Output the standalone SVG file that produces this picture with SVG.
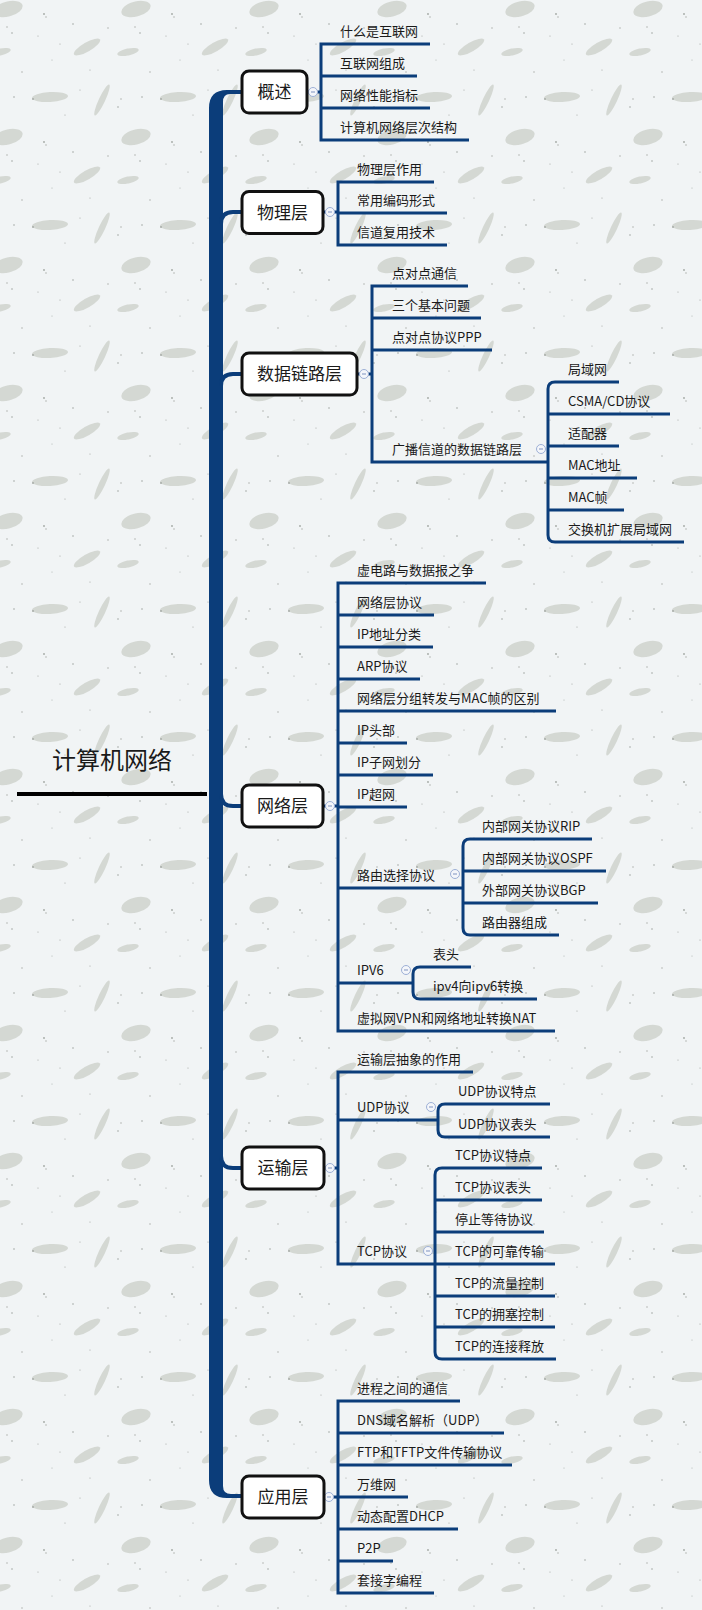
<svg xmlns="http://www.w3.org/2000/svg" width="702" height="1610" viewBox="0 0 702 1610">
<style>
text{font-family:"Noto Sans CJK SC","Microsoft YaHei","Noto Sans",sans-serif;fill:#1a1a1a}
.sub{font-size:13px}
.main{font-size:17px;text-anchor:middle}
.root{font-size:24px}
.ln{stroke:#0b3d7a;stroke-width:3;fill:none;stroke-linecap:butt}
.br{stroke:#0b3d7a;stroke-width:4;fill:none}
.box{fill:#ffffff;stroke:#111111;stroke-width:3}
.hd{fill:#f4f6fa;stroke:#9db0d6;stroke-width:1}
.hm{stroke:#7f93c0;stroke-width:1}
.blob{fill:#cdd1cb;opacity:0.8}
.dot{fill:#a3a8a3}
</style>
<defs>
<pattern id="bg" width="128" height="128" patternUnits="userSpaceOnUse">
<rect width="128" height="128" fill="#f1f4f5"/>
<ellipse class="blob" cx="8" cy="9" rx="15" ry="7.5" transform="rotate(-15 8 9)"/>
<ellipse class="blob" cx="136" cy="9" rx="15" ry="7.5" transform="rotate(-15 136 9)"/>
<ellipse class="blob" cx="8" cy="137" rx="15" ry="7.5" transform="rotate(-15 8 137)"/>
<ellipse class="blob" cx="136" cy="137" rx="15" ry="7.5" transform="rotate(-15 136 137)"/>
<ellipse class="blob" cx="87" cy="47" rx="15" ry="4.5" transform="rotate(-30 87 47)"/>
<ellipse class="blob" cx="128" cy="52" rx="11" ry="3.5" transform="rotate(-12 128 52)"/>
<ellipse class="blob" cx="0" cy="52" rx="11" ry="3.5" transform="rotate(-12 0 52)"/>
<ellipse class="blob" cx="50" cy="97" rx="18" ry="5" transform="rotate(-3 50 97)"/>
<ellipse class="blob" cx="102" cy="100" rx="17" ry="3.2" transform="rotate(-65 102 100)"/>
<circle class="dot" cx="44" cy="14" r="0.9"/><circle class="dot" cx="46" cy="17" r="0.7"/>
<circle class="dot" cx="7" cy="27" r="0.7"/><circle class="dot" cx="12" cy="33" r="0.8"/>
<circle class="dot" cx="73" cy="24" r="0.8"/><circle class="dot" cx="38" cy="36" r="0.6"/>
<circle class="dot" cx="60" cy="44" r="0.6"/><circle class="dot" cx="140" cy="44" r="0.6"/>
<circle class="dot" cx="108" cy="28" r="0.7"/><circle class="dot" cx="22" cy="72" r="0.7"/>
<circle class="dot" cx="14" cy="97" r="0.8"/><circle class="dot" cx="33" cy="99" r="0.9"/>
<circle class="dot" cx="80" cy="90" r="0.6"/><circle class="dot" cx="118" cy="107" r="0.8"/>
<circle class="dot" cx="121" cy="99" r="0.7"/><circle class="dot" cx="65" cy="115" r="0.6"/>
<circle class="dot" cx="90" cy="70" r="0.6"/><circle class="dot" cx="52" cy="60" r="0.5"/>
</pattern>
</defs>
<rect width="702" height="1610" fill="url(#bg)"/>

<g id="connectors">
<path d="M209,108 Q209,90 227,90 H242 V94 H230 Q223,94 223,102 V1486 Q223,1494 231,1494 H242 V1498 H227 Q209,1498 209,1480 Z" fill="#0b3d7a"/>
<path class="br" d="M221,224 Q221,212 233,212 H242"/>
<path class="br" d="M221,386 Q221,374 233,374 H242"/>
<path class="br" d="M221,794 Q221,806 233,806 H242"/>
<path class="br" d="M221,1156 Q221,1168 233,1168 H242"/>
<line x1="17" y1="794" x2="207" y2="794" stroke="#000" stroke-width="4"/>

<!-- 概述 -->
<path class="ln" d="M307,92 H321 M321,42.5 V141.5 M321,44 H430 M321,76 H417 M321,108 H430 M321,140 H469"/>
<!-- 物理层 -->
<path class="ln" d="M323,212 H338 M338,180.5 V246.5 M338,182 H434 M338,213 H447 M338,245 H447"/>
<!-- 数据链路层 -->
<path class="ln" d="M357,374 H372 M372,284.5 V463.5 M372,286 H468 M372,318 H481 M372,350 H492 M372,462 H548"/>
<path class="ln" d="M619,382 H555 Q548,382 548,389 V535 Q548,542 555,542 H684 M548,414 H670 M548,446 H619 M548,478 H637 M548,510 H624"/>
<!-- 网络层 -->
<path class="ln" d="M323,806 H338 M338,581.5 V1032.5 M338,583 H486 M338,615 H434 M338,647 H433 M338,679 H420 M338,711 H556 M338,743 H407 M338,775 H433 M338,807 H407 M338,888 H463 M338,983 H413 M338,1031 H555"/>
<path class="ln" d="M592,839 H470 Q463,839 463,846 V928 Q463,935 470,935 H559 M463,871 H606 M463,903 H598"/>
<path class="ln" d="M471,967 H420 Q413,967 413,974 V992 Q413,999 420,999 H537"/>
<!-- 运输层 -->
<path class="ln" d="M324,1168 H338 M338,1070.5 V1265.5 M338,1072 H473 M338,1120 H438 M338,1264 H435"/>
<path class="ln" d="M550,1104 H445 Q438,1104 438,1111 V1130 Q438,1137 445,1137 H550"/>
<path class="ln" d="M542,1168 H442 Q435,1168 435,1175 V1352 Q435,1359 442,1359 H556 M435,1200 H542 M435,1232 H544 M435,1264 H555 M435,1296 H555 M435,1327 H555"/>
<!-- 应用层 -->
<path class="ln" d="M324,1497 H338 M338,1399.5 V1594.5 M338,1401 H460 M338,1433 H504 M338,1465 H512 M338,1497 H408 M338,1529 H458 M338,1561 H393 M338,1593 H434"/>
</g>

<g id="handles">
<g><circle class="hd" cx="313" cy="92" r="4.5"/><line class="hm" x1="311" y1="92" x2="315" y2="92"/></g>
<g><circle class="hd" cx="330" cy="212" r="4.5"/><line class="hm" x1="328" y1="212" x2="332" y2="212"/></g>
<g><circle class="hd" cx="364" cy="374" r="4.5"/><line class="hm" x1="362" y1="374" x2="366" y2="374"/></g>
<g><circle class="hd" cx="541" cy="449" r="4.5"/><line class="hm" x1="539" y1="449" x2="543" y2="449"/></g>
<g><circle class="hd" cx="330" cy="806" r="4.5"/><line class="hm" x1="328" y1="806" x2="332" y2="806"/></g>
<g><circle class="hd" cx="455" cy="874" r="4.5"/><line class="hm" x1="453" y1="874" x2="457" y2="874"/></g>
<g><circle class="hd" cx="406" cy="970" r="4.5"/><line class="hm" x1="404" y1="970" x2="408" y2="970"/></g>
<g><circle class="hd" cx="330" cy="1168" r="4.5"/><line class="hm" x1="328" y1="1168" x2="332" y2="1168"/></g>
<g><circle class="hd" cx="431" cy="1107" r="4.5"/><line class="hm" x1="429" y1="1107" x2="433" y2="1107"/></g>
<g><circle class="hd" cx="428" cy="1251" r="4.5"/><line class="hm" x1="426" y1="1251" x2="430" y2="1251"/></g>
<g><circle class="hd" cx="329" cy="1497" r="4.5"/><line class="hm" x1="327" y1="1497" x2="331" y2="1497"/></g>
</g>

<g id="root"><text class="root" x="52" y="769">计算机网络</text></g>

<g id="n-gaishu"><rect class="box" x="242" y="71" width="65" height="42" rx="7"/><text class="main" x="274.5" y="98">概述</text></g>
<g id="n-wuli"><rect class="box" x="242" y="191.5" width="81" height="42" rx="7"/><text class="main" x="282.5" y="218.5">物理层</text></g>
<g id="n-shuju"><rect class="box" x="242" y="353" width="115" height="42" rx="7"/><text class="main" x="299.5" y="380">数据链路层</text></g>
<g id="n-wangluo"><rect class="box" x="242" y="785" width="81" height="42" rx="7"/><text class="main" x="282.5" y="812">网络层</text></g>
<g id="n-yunshu"><rect class="box" x="242" y="1147" width="82" height="42" rx="7"/><text class="main" x="283" y="1174">运输层</text></g>
<g id="n-yingyong"><rect class="box" x="242" y="1476" width="82" height="42" rx="7"/><text class="main" x="283" y="1503">应用层</text></g>

<g id="c-gaishu">
<g id="t-1"><text class="sub" x="340" y="36">什么是互联网</text></g>
<g id="t-2"><text class="sub" x="340" y="68">互联网组成</text></g>
<g id="t-3"><text class="sub" x="340" y="100">网络性能指标</text></g>
<g id="t-4"><text class="sub" x="340" y="132">计算机网络层次结构</text></g>
</g>
<g id="c-wuli">
<g id="t-5"><text class="sub" x="357" y="174">物理层作用</text></g>
<g id="t-6"><text class="sub" x="357" y="205">常用编码形式</text></g>
<g id="t-7"><text class="sub" x="357" y="237">信道复用技术</text></g>
</g>
<g id="c-shuju">
<g id="t-8"><text class="sub" x="392" y="278">点对点通信</text></g>
<g id="t-9"><text class="sub" x="392" y="310">三个基本问题</text></g>
<g id="t-10"><text class="sub" x="392" y="342">点对点协议PPP</text></g>
<g id="t-11"><text class="sub" x="392" y="454">广播信道的数据链路层</text></g>
<g id="t-12"><text class="sub" x="568" y="374">局域网</text></g>
<g id="t-13"><text class="sub" x="568" y="406">CSMA/CD协议</text></g>
<g id="t-14"><text class="sub" x="568" y="438">适配器</text></g>
<g id="t-15"><text class="sub" x="568" y="470">MAC地址</text></g>
<g id="t-16"><text class="sub" x="568" y="502">MAC帧</text></g>
<g id="t-17"><text class="sub" x="568" y="534">交换机扩展局域网</text></g>
</g>
<g id="c-wangluo">
<g id="t-18"><text class="sub" x="357" y="575">虚电路与数据报之争</text></g>
<g id="t-19"><text class="sub" x="357" y="607">网络层协议</text></g>
<g id="t-20"><text class="sub" x="357" y="639">IP地址分类</text></g>
<g id="t-21"><text class="sub" x="357" y="671">ARP协议</text></g>
<g id="t-22"><text class="sub" x="357" y="703">网络层分组转发与MAC帧的区别</text></g>
<g id="t-23"><text class="sub" x="357" y="735">IP头部</text></g>
<g id="t-24"><text class="sub" x="357" y="767">IP子网划分</text></g>
<g id="t-25"><text class="sub" x="357" y="799">IP超网</text></g>
<g id="t-26"><text class="sub" x="357" y="880">路由选择协议</text></g>
<g id="t-27"><text class="sub" x="482" y="831">内部网关协议RIP</text></g>
<g id="t-28"><text class="sub" x="482" y="863">内部网关协议OSPF</text></g>
<g id="t-29"><text class="sub" x="482" y="895">外部网关协议BGP</text></g>
<g id="t-30"><text class="sub" x="482" y="927">路由器组成</text></g>
<g id="t-31"><text class="sub" x="357" y="975">IPV6</text></g>
<g id="t-32"><text class="sub" x="433" y="959">表头</text></g>
<g id="t-33"><text class="sub" x="433" y="991">ipv4向ipv6转换</text></g>
<g id="t-34"><text class="sub" x="357" y="1023">虚拟网VPN和网络地址转换NAT</text></g>
</g>
<g id="c-yunshu">
<g id="t-35"><text class="sub" x="357" y="1064">运输层抽象的作用</text></g>
<g id="t-36"><text class="sub" x="357" y="1112">UDP协议</text></g>
<g id="t-37"><text class="sub" x="458" y="1096">UDP协议特点</text></g>
<g id="t-38"><text class="sub" x="458" y="1129">UDP协议表头</text></g>
<g id="t-39"><text class="sub" x="357" y="1256">TCP协议</text></g>
<g id="t-40"><text class="sub" x="455" y="1160">TCP协议特点</text></g>
<g id="t-41"><text class="sub" x="455" y="1192">TCP协议表头</text></g>
<g id="t-42"><text class="sub" x="455" y="1224">停止等待协议</text></g>
<g id="t-43"><text class="sub" x="455" y="1256">TCP的可靠传输</text></g>
<g id="t-44"><text class="sub" x="455" y="1288">TCP的流量控制</text></g>
<g id="t-45"><text class="sub" x="455" y="1319">TCP的拥塞控制</text></g>
<g id="t-46"><text class="sub" x="455" y="1351">TCP的连接释放</text></g>
</g>
<g id="c-yingyong">
<g id="t-47"><text class="sub" x="357" y="1393">进程之间的通信</text></g>
<g id="t-48"><text class="sub" x="357" y="1425">DNS域名解析（UDP）</text></g>
<g id="t-49"><text class="sub" x="357" y="1457">FTP和TFTP文件传输协议</text></g>
<g id="t-50"><text class="sub" x="357" y="1489">万维网</text></g>
<g id="t-51"><text class="sub" x="357" y="1521">动态配置DHCP</text></g>
<g id="t-52"><text class="sub" x="357" y="1553">P2P</text></g>
<g id="t-53"><text class="sub" x="357" y="1585">套接字编程</text></g>
</g>
</svg>
